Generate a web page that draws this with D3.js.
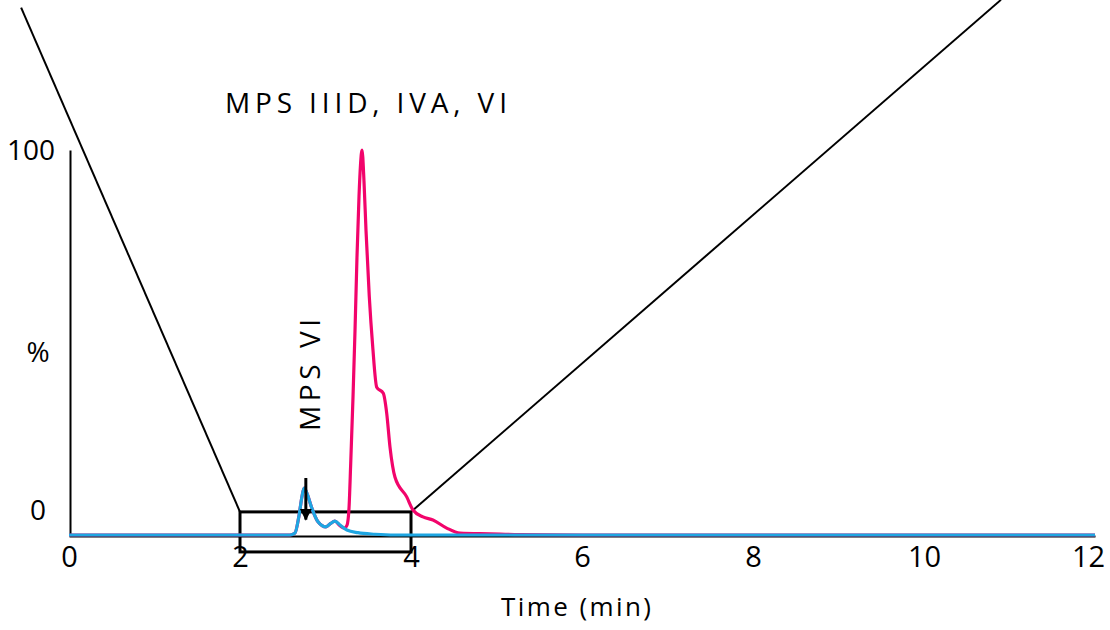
<!DOCTYPE html>
<html>
<head>
<meta charset="utf-8">
<script src="https://cdn.jsdelivr.net/npm/d3@7"></script>
<style>
  html, body { margin: 0; padding: 0; background: #fff; }
  svg { display: block; }
  text { font-family: "Comic Sans MS", "Open Sans", "DejaVu Sans", sans-serif; fill: #000; }
</style>
</head>
<body>
<svg id="chart" width="1110" height="630"></svg>
<script>
// Time axis ticks (min) and intensity ticks (%)
const xTicks = [0, 2, 4, 6, 8, 10, 12];
const yTicks = [0, 100];

// Chromatogram traces: [time (min), relative intensity (%)]
const mpsViTrace = [
  [0, 0], [2.585, 0], [2.643, 0.5], [2.69, 5], [2.725, 10], [2.75, 12.2],
  [2.78, 11], [2.84, 7], [2.91, 3.5], [3.006, 2.1], [3.06, 3], [3.11, 3.6],
  [3.17, 2.6], [3.25, 1.3], [3.38, 0.6], [3.58, 0.2], [3.81, 0], [12, 0]
];
const mpsMainTrace = [
  [0, 0], [2.585, 0], [2.643, 0.5], [2.69, 5], [2.725, 10], [2.75, 12.2],
  [2.78, 11], [2.84, 7], [2.91, 3.5], [3.006, 2.1], [3.06, 3], [3.11, 3.6],
  [3.17, 2.4], [3.22, 1.8], [3.251, 2.5], [3.275, 7], [3.295, 18.7],
  [3.322, 36], [3.345, 53], [3.368, 72], [3.392, 88], [3.409, 96],
  [3.427, 100], [3.45, 92], [3.474, 79], [3.512, 62], [3.552, 49],
  [3.599, 38.4], [3.676, 36.8], [3.716, 31.6], [3.754, 22.9], [3.813, 15],
  [3.95, 9.9], [4.023, 6.5], [4.14, 4.7], [4.257, 3.9], [4.417, 1.8],
  [4.573, 0.5], [4.924, 0.3], [5.27, 0.1], [6, 0], [12, 0]
];

// Mobile-phase gradient segments
const gradientDown = [[-0.56, 137], [2, 6]];
const gradientUp = [[4, 6], [10.9, 139]];

// Collection window (min) and its vertical extent (%)
const windowTimes = [2, 4];
const windowLevels = [6, -4.4];

// Annotations
const arrowTime = 2.77;
const arrowLevels = [14.8, 4];

const svg = d3.select("#chart");
const x = d3.scaleLinear().domain([0, 12]).range([69, 1095]);
const y = d3.scaleLinear().domain([0, 100]).range([535, 150]);

const line = d3.line().x(d => x(d[0])).y(d => y(d[1]));
const smooth = d3.line().x(d => x(d[0])).y(d => y(d[1])).curve(d3.curveMonotoneX);

// Gradient lines, clipped to the view
svg.append("clipPath").attr("id", "view")
  .append("rect").attr("x", 0).attr("y", 0).attr("width", 1110).attr("height", 630);
[gradientDown, gradientUp].forEach(seg => {
  svg.append("path").attr("d", line(seg)).attr("clip-path", "url(#view)")
    .attr("fill", "none").attr("stroke", "#000").attr("stroke-width", 2);
});

// Collection window box
svg.append("rect")
  .attr("x", x(windowTimes[0])).attr("y", y(windowLevels[0]))
  .attr("width", x(windowTimes[1]) - x(windowTimes[0]))
  .attr("height", y(windowLevels[1]) - y(windowLevels[0]))
  .attr("fill", "none").attr("stroke", "#000").attr("stroke-width", 3);

// Axes
const xAxis = d3.axisBottom(x).tickValues(xTicks).tickSize(0).tickPadding(10);
const gx = svg.append("g").attr("transform", `translate(0,${y(0) + 1})`).call(xAxis);
gx.select(".domain").attr("stroke", "#000").attr("stroke-width", 2);
gx.selectAll("text").style("font-size", "29px").attr("dy", "0.71em")
  .attr("dx", d => d === 12 ? "-7px" : "0");

const yAxis = d3.axisLeft(y).tickValues(yTicks).tickSize(0).tickPadding(12).tickFormat(d3.format("d"));
const gy = svg.append("g").attr("transform", `translate(${x(0) + 1},0)`).call(yAxis);
gy.select(".domain").attr("stroke", "#000").attr("stroke-width", 2);
gy.selectAll("text").style("font-size", "28px")
  .attr("dy", d => d === 0 ? "-0.55em" : "0.35em")
  .attr("dx", d => d === 0 ? "-12px" : "-3px");

// Traces
svg.append("path").datum(mpsMainTrace).attr("d", smooth)
  .attr("fill", "none").attr("stroke", "#f2046b").attr("stroke-width", 3.2)
  .attr("stroke-linejoin", "round");
svg.append("path").datum(mpsViTrace).attr("d", smooth)
  .attr("fill", "none").attr("stroke", "#1ea6e2").attr("stroke-width", 3.2)
  .attr("stroke-linejoin", "round");

// Arrow marking the MPS VI peak
svg.append("defs").append("marker")
  .attr("id", "head").attr("viewBox", "0 0 10 10").attr("refX", 9).attr("refY", 5)
  .attr("markerWidth", 4).attr("markerHeight", 4.5).attr("orient", "auto")
  .append("path").attr("d", "M0,0 L10,5 L0,10 z").attr("fill", "#000");
svg.append("line")
  .attr("x1", x(arrowTime)).attr("x2", x(arrowTime))
  .attr("y1", y(arrowLevels[0])).attr("y2", y(arrowLevels[1]))
  .attr("stroke", "#000").attr("stroke-width", 3).attr("marker-end", "url(#head)");

// Labels
svg.append("text").attr("x", 366).attr("y", 113).attr("text-anchor", "middle")
  .attr("textLength", 282).attr("lengthAdjust", "spacing")
  .style("font-size", "28px").text("MPS IIID, IVA, VI");
svg.append("text").attr("transform", "translate(320,375) rotate(-90)")
  .attr("text-anchor", "middle").attr("textLength", 112).attr("lengthAdjust", "spacing")
  .style("font-size", "28px").text("MPS VI");
svg.append("text").attr("x", 38).attr("y", 362).attr("text-anchor", "middle")
  .style("font-size", "28px").text("%");
svg.append("text").attr("x", 576).attr("y", 616).attr("text-anchor", "middle")
  .attr("textLength", 150).attr("lengthAdjust", "spacing")
  .style("font-size", "26px").text("Time (min)");
</script>
</body>
</html>
